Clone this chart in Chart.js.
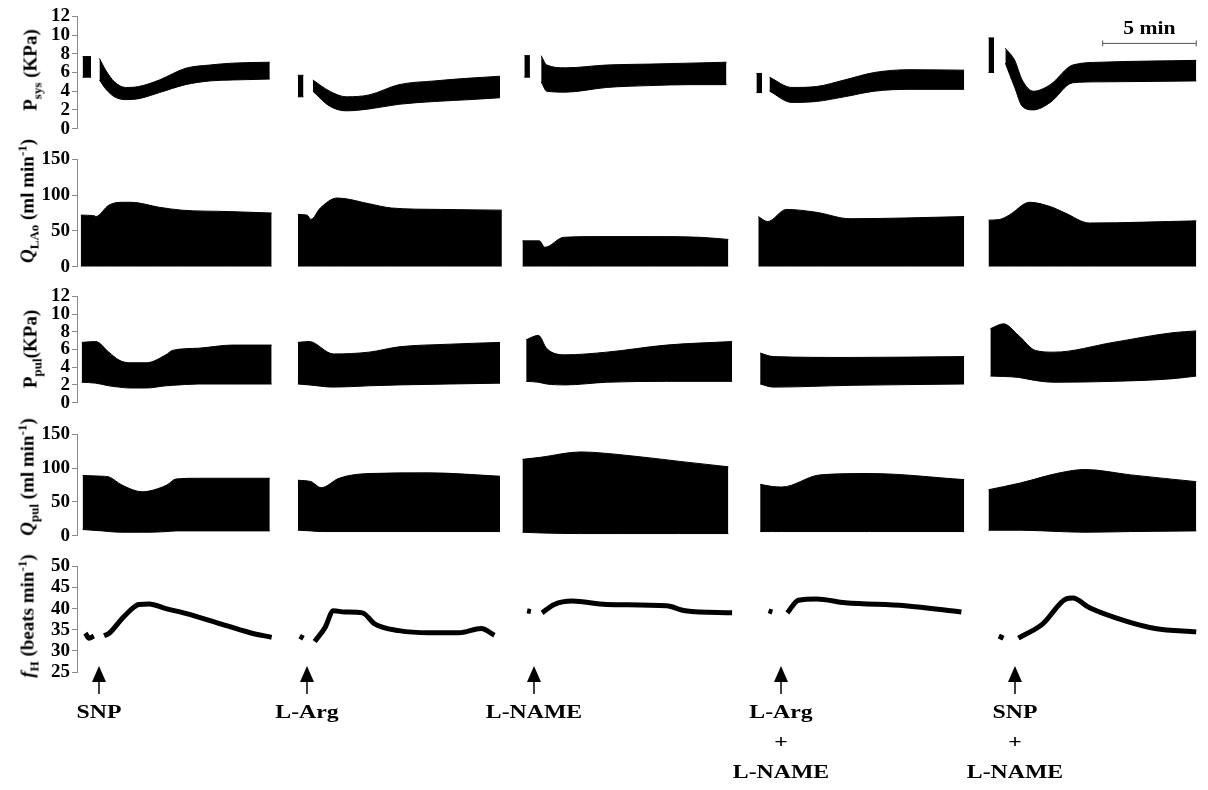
<!DOCTYPE html>
<html>
<head>
<meta charset="utf-8">
<title>Haemodynamic traces</title>
<script src="https://cdn.jsdelivr.net/npm/chart.js@4.4.1/dist/chart.umd.min.js"></script>
<style>
  html, body { margin: 0; padding: 0; background: #fff; }
  #figure { position: relative; width: 1208px; height: 790px; overflow: hidden; font-family: 'Liberation Serif', 'Times New Roman', serif; color: #000; }
  .row { position: absolute; left: 0; width: 1208px; }
  .ytitle { position: absolute; white-space: nowrap; font-weight: bold; font-size: 19px; line-height: 19px; transform: translate(-50%, -50%) rotate(-90deg); }
  .ytitle sub, .ytitle sup { font-size: 13px; line-height: 0; }
  .treat { position: absolute; top: 697px; font-weight: bold; font-size: 19px; line-height: 30px; white-space: nowrap; text-align: center; transform: translateX(-50%) scaleX(1.25); }
</style>
</head>
<body>
<div id="figure"></div>
<script>
// time axis in minutes, every trace piece is its own list
const timeRange = [0, 60];

const psysTicks = [0, 2, 4, 6, 8, 10, 12];
const psysTime = [
  [0.3, 0.75],
  [1.2, 1.55, 2.0, 2.6, 3.3, 4.4, 5.8, 7.1, 8.3, 10.3],
  [11.8, 12.1],
  [12.6, 13.5, 14.4, 15.6, 17.2, 19.1, 21.0, 22.6],
  [23.9, 24.2],
  [24.8, 25.1, 26.1, 28.3, 30.6, 32.7, 34.7],
  [36.3, 36.6],
  [37.0, 38.2, 39.5, 41.0, 42.6, 44.5, 47.4],
  [48.7, 49.0],
  [49.6, 50.1, 50.5, 51.1, 52.0, 53.2, 54.7, 59.8],
];
const psysHigh = [
  [7.7, 7.7],
  [7.5, 6.2, 5.0, 4.4, 4.5, 5.2, 6.45, 6.8, 7.0, 7.1],
  [5.7, 5.7],
  [5.2, 4.0, 3.4, 3.6, 4.7, 5.1, 5.4, 5.6],
  [7.8, 7.8],
  [7.8, 6.8, 6.5, 6.8, 6.9, 7.0, 7.1],
  [5.9, 5.9],
  [5.5, 4.4, 4.5, 5.2, 6.0, 6.3, 6.25],
  [9.7, 9.7],
  [8.6, 7.3, 5.2, 4.0, 4.7, 6.8, 7.1, 7.3],
];
const psysLow = [
  [5.5, 5.5],
  [5.2, 4.2, 3.4, 3.1, 3.2, 3.85, 4.7, 5.1, 5.2, 5.3],
  [3.4, 3.4],
  [4.0, 2.4, 1.9, 2.1, 2.6, 2.9, 3.1, 3.3],
  [5.5, 5.5],
  [5.0, 4.0, 3.9, 4.4, 4.6, 4.7, 4.7],
  [3.85, 3.85],
  [4.0, 2.8, 2.9, 3.4, 4.0, 4.2, 4.2],
  [6.0, 6.0],
  [7.0, 4.4, 2.4, 2.0, 2.8, 4.9, 5.0, 5.1],
];

const qlaoTicks = [0, 50, 100, 150];
const qlaoTime = [
  [0.2, 0.95, 1.0, 1.7, 2.4, 2.9, 4.4, 5.6, 8.1, 10.4],
  [11.8, 12.3, 12.5, 13.0, 13.9, 15.6, 16.8, 19.4, 22.7],
  [23.8, 24.7, 25.0, 26.0, 27.9, 30.6, 33.3, 34.8],
  [36.4, 36.9, 37.9, 39.5, 41.3, 44.2, 47.4],
  [48.7, 49.3, 49.8, 50.9, 52.0, 52.8, 54.1, 59.8],
];
const qlaoHigh = [
  [72, 71, 70, 86, 90, 90, 83, 79, 77, 75],
  [73, 72, 66, 82, 96, 88, 82, 80, 79],
  [36, 36, 27, 41, 42, 42, 41, 38],
  [70, 63, 80, 76, 67, 68, 70],
  [65, 66, 72, 90, 84, 75, 61, 64],
];
const qlaoLow = [
  [0, 0, 0, 0, 0, 0, 0, 0, 0, 0],
  [0, 0, 0, 0, 0, 0, 0, 0, 0],
  [0, 0, 0, 0, 0, 0, 0, 0],
  [0, 0, 0, 0, 0, 0, 0],
  [0, 0, 0, 0, 0, 0, 0, 0],
];

const ppulTicks = [0, 2, 4, 6, 8, 10, 12];
const ppulTime = [
  [0.25, 1.0, 1.7, 2.25, 2.8, 3.7, 4.75, 5.1, 6.5, 8.3, 10.4],
  [11.8, 12.4, 13.7, 15.6, 17.2, 19.9, 22.6],
  [24.0, 24.65, 25.1, 26.1, 28.3, 31.5, 35.0],
  [36.5, 37.2, 41.3, 47.4],
  [48.8, 49.5, 50.3, 51.2, 52.2, 55.35, 58.55, 59.8],
];
const ppulHigh = [
  [6.8, 6.9, 5.7, 4.8, 4.5, 4.5, 5.4, 5.9, 6.15, 6.5, 6.5],
  [6.8, 6.9, 5.5, 5.7, 6.3, 6.6, 6.8],
  [7.1, 7.6, 6.1, 5.4, 5.7, 6.5, 6.9],
  [5.6, 5.2, 5.1, 5.2],
  [8.35, 8.9, 7.6, 5.9, 5.7, 6.8, 7.9, 8.1],
];
const ppulLow = [
  [2.3, 2.2, 1.9, 1.75, 1.65, 1.65, 1.9, 1.95, 2.1, 2.1, 2.1],
  [2.1, 2.0, 1.75, 1.9, 2.0, 2.1, 2.2],
  [2.4, 2.3, 2.1, 2.0, 2.3, 2.4, 2.4],
  [2.1, 1.75, 1.95, 2.1],
  [3.0, 2.95, 2.85, 2.5, 2.3, 2.4, 2.7, 3.0],
];

const qpulTicks = [0, 50, 100, 150];
const qpulTime = [
  [0.3, 1.35, 1.7, 2.4, 3.5, 3.85, 4.8, 5.3, 6.5, 10.3],
  [11.8, 12.5, 13.05, 14.0, 15.6, 18.8, 22.6],
  [23.8, 24.75, 26.9, 29.0, 32.2, 34.8],
  [36.5, 37.1, 37.65, 39.7, 42.35, 47.4],
  [48.7, 50.4, 52.5, 53.85, 56.3, 59.8],
];
const qpulHigh = [
  [89, 88, 87, 75, 65, 66, 75, 84, 85, 85],
  [82, 80, 71, 85, 92, 93, 88],
  [113, 116, 124, 120, 110, 102],
  [76, 73, 72, 90, 92, 83],
  [68, 78, 93, 98, 90, 80],
];
const qpulLow = [
  [9, 7, 6, 5, 5, 5, 6, 7, 7, 7],
  [8, 7, 6, 6, 6, 6, 6],
  [5, 4, 3, 3, 3, 3],
  [6, 6, 6, 6, 6, 6],
  [8, 8, 6, 5, 6, 7],
];

const heartTicks = [25, 30, 35, 40, 45, 50];
const heartTime = [
  [0.45, 0.65, 0.9],
  [1.45, 1.7, 2.4, 2.95, 3.3, 3.85, 4.75, 5.85, 7.45, 9.25, 10.4],
  [11.9, 12.1],
  [12.7, 13.25, 13.7, 14.3, 15.25, 15.9, 17.2, 18.8, 20.4, 21.6, 22.3],
  [24.05, 24.25],
  [24.85, 25.5, 26.45, 28.3, 31.5, 32.5, 35.0],
  [36.95, 37.15],
  [37.95, 38.55, 39.5, 41.05, 44.25, 47.25],
  [49.25, 49.5],
  [50.3, 51.6, 52.85, 53.2, 54.1, 56.0, 57.6, 59.8],
];
const heartRate = [
  [34.2, 33.0, 33.5],
  [33.6, 34.1, 37.6, 40.0, 41.0, 41.1, 40.0, 38.8, 36.7, 34.3, 33.2],
  [33.5, 33.0],
  [32.2, 35.5, 39.5, 39.2, 39.0, 36.4, 34.8, 34.3, 34.3, 35.3, 33.7],
  [39.5, 39.3],
  [39.0, 41.0, 41.8, 41.0, 40.7, 39.5, 39.0],
  [39.5, 39.2],
  [39.0, 42.0, 42.3, 41.4, 40.7, 39.2],
  [33.5, 33.0],
  [33.0, 36.4, 42.3, 42.5, 40.2, 37.1, 35.3, 34.5],
];

const injectionTimes = [1.2, 12.3, 24.4, 37.6, 50.1];
const treatmentLabels = [['SNP'], ['L-Arg'], ['L-NAME'], ['L-Arg', '+', 'L-NAME'], ['SNP', '+', 'L-NAME']];
const scaleBarStart = 54.8;
const scaleBarMinutes = 5;

const serif = 'Liberation Serif';

const toPoints = (times, values) => times.map((x, j) => ({ x, y: values[j] }));

const bandDatasets = (times, highs, lows) => times.flatMap((t, i) => [
  {
    data: toPoints(t, highs[i]),
    fill: '+1',
    backgroundColor: '#000',
    borderColor: '#000',
    borderWidth: 1,
    pointRadius: 0,
    cubicInterpolationMode: 'monotone',
  },
  {
    data: toPoints(t, lows[i]),
    fill: false,
    borderColor: '#000',
    borderWidth: 1,
    pointRadius: 0,
    cubicInterpolationMode: 'monotone',
  },
]);

const lineDatasets = (times, values) => times.map((t, i) => ({
  data: toPoints(t, values[i]),
  fill: false,
  borderColor: '#000',
  borderWidth: 5,
  pointRadius: 0,
  cubicInterpolationMode: 'monotone',
}));

const yAxis = (ticks) => ({
  min: ticks[0],
  max: ticks[ticks.length - 1],
  afterFit: (scale) => { scale.width = 77; },
  afterBuildTicks: (scale) => { scale.ticks = ticks.map((value) => ({ value })); },
  border: { display: true, color: '#8a8a8a', width: 1 },
  grid: { display: true, drawOnChartArea: false, drawTicks: true, tickLength: 5, color: '#8a8a8a' },
  ticks: { color: '#000', padding: 2, autoSkip: false, font: { family: serif, size: 19, weight: 'bold' } },
});

const scaleBarPlugin = {
  id: 'scaleBar',
  afterDraw(chart) {
    const { ctx, scales: { x } } = chart;
    const x0 = x.getPixelForValue(scaleBarStart);
    const x1 = x.getPixelForValue(scaleBarStart + scaleBarMinutes);
    const y = chart.chartArea.top + 27;
    ctx.save();
    ctx.strokeStyle = '#555';
    ctx.lineWidth = 1;
    ctx.beginPath();
    ctx.moveTo(x0, y); ctx.lineTo(x1, y);
    ctx.moveTo(x0, y - 3); ctx.lineTo(x0, y + 3);
    ctx.moveTo(x1, y - 3); ctx.lineTo(x1, y + 3);
    ctx.stroke();
    ctx.translate((x0 + x1) / 2, y - 5);
    ctx.scale(1.2, 1);
    ctx.font = `bold 18px "${serif}"`;
    ctx.textAlign = 'center';
    ctx.textBaseline = 'bottom';
    ctx.fillStyle = '#000';
    ctx.fillText(`${scaleBarMinutes} min`, 0, 0);
    ctx.restore();
  },
};

const arrowPlugin = {
  id: 'arrows',
  afterDraw(chart) {
    const { ctx, scales: { x } } = chart;
    const base = chart.chartArea.bottom;
    ctx.save();
    ctx.fillStyle = '#000';
    ctx.strokeStyle = '#000';
    ctx.lineWidth = 1.5;
    injectionTimes.forEach((t) => {
      const px = Math.round(x.getPixelForValue(t));
      ctx.beginPath();
      ctx.moveTo(px, base - 6);
      ctx.lineTo(px - 7, base + 10);
      ctx.lineTo(px + 7, base + 10);
      ctx.closePath();
      ctx.fill();
      ctx.beginPath();
      ctx.moveTo(px, base + 10);
      ctx.lineTo(px, base + 22);
      ctx.stroke();
    });
    ctx.restore();
  },
};

const rows = [
  { top: 15, bottom: 130, ticks: psysTicks, datasets: bandDatasets(psysTime, psysHigh, psysLow),
    title: 'P<sub>sys</sub> (KPa)', titleX: 30, titleY: 70, plugins: [scaleBarPlugin] },
  { top: 158, bottom: 268, ticks: qlaoTicks, datasets: bandDatasets(qlaoTime, qlaoHigh, qlaoLow),
    title: '<i>Q</i><sub>LAo</sub> (ml min<sup>-1</sup>)', titleX: 27, titleY: 201, plugins: [] },
  { top: 295, bottom: 404, ticks: ppulTicks, datasets: bandDatasets(ppulTime, ppulHigh, ppulLow),
    title: 'P<sub>pul</sub>(KPa)', titleX: 30, titleY: 349, plugins: [] },
  { top: 433, bottom: 537, ticks: qpulTicks, datasets: bandDatasets(qpulTime, qpulHigh, qpulLow),
    title: '<i>Q</i><sub>pul</sub> (ml min<sup>-1</sup>)', titleX: 27, titleY: 477, plugins: [] },
  { top: 565, bottom: 672, ticks: heartTicks, datasets: lineDatasets(heartTime, heartRate),
    title: '<i>f</i><sub>H</sub> (beats min<sup>-1</sup>)', titleX: 27, titleY: 616, plugins: [arrowPlugin], extraBottom: 26 },
];

const figure = document.getElementById('figure');
const charts = rows.map((row) => {
  const padTop = 12;
  const padBottom = row.extraBottom ?? 12;
  const wrap = document.createElement('div');
  wrap.className = 'row';
  wrap.style.top = `${row.top - padTop}px`;
  wrap.style.height = `${row.bottom - row.top + padTop + padBottom}px`;
  const canvas = document.createElement('canvas');
  wrap.appendChild(canvas);
  figure.appendChild(wrap);

  const title = document.createElement('div');
  title.className = 'ytitle';
  title.style.left = `${row.titleX}px`;
  title.style.top = `${row.titleY}px`;
  title.innerHTML = row.title;
  figure.appendChild(title);

  return new Chart(canvas, {
    type: 'line',
    data: { datasets: row.datasets },
    options: {
      responsive: true,
      maintainAspectRatio: false,
      animation: false,
      events: [],
      layout: { padding: { top: padTop, bottom: padBottom, left: 0, right: 8 } },
      plugins: { legend: { display: false }, tooltip: { enabled: false } },
      scales: {
        x: { type: 'linear', min: timeRange[0], max: timeRange[1], display: false },
        y: yAxis(row.ticks),
      },
    },
    plugins: row.plugins,
  });
});

const lastChart = charts[charts.length - 1];
treatmentLabels.forEach((lines, i) => {
  const label = document.createElement('div');
  label.className = 'treat';
  label.style.left = `${lastChart.scales.x.getPixelForValue(injectionTimes[i])}px`;
  label.innerHTML = lines.join('<br>');
  figure.appendChild(label);
});
</script>
</body>
</html>
